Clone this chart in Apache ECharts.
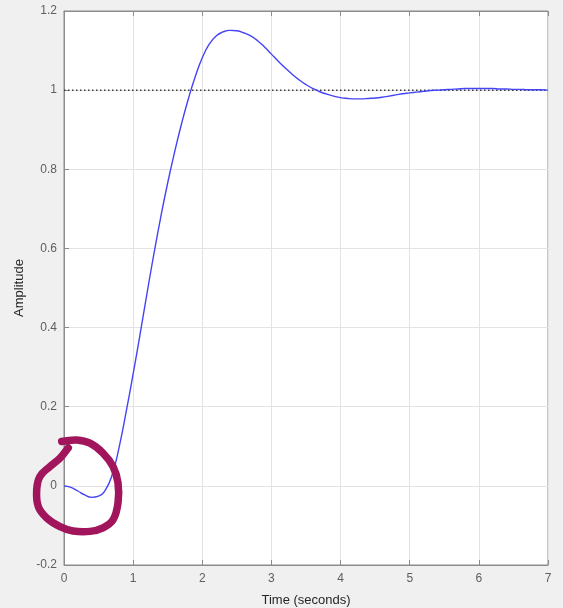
<!DOCTYPE html>
<html>
<head>
<meta charset="utf-8">
<style>
html,body{margin:0;padding:0;background:#f0f0f0;}
#c{width:563px;height:608px;}
</style>
<script src="https://cdn.jsdelivr.net/npm/echarts@6/dist/echarts.min.js"></script>
</head>
<body>
<div id="c"></div>
<script>
// Time samples (seconds)
const timeValues = [0.0,0.1,0.2,0.3,0.4,0.5,0.6,0.7,0.8,0.9,1.0,1.1,1.2,1.3,1.4,1.5,1.6,1.7,1.8,1.9,2.0,2.1,2.2,2.3,2.4,2.5,2.6,2.7,2.8,2.9,3.0,3.1,3.2,3.3,3.4,3.5,3.6,3.7,3.8,3.9,4.0,4.1,4.2,4.3,4.4,4.5,4.6,4.7,4.8,4.9,5.0,5.1,5.2,5.3,5.4,5.5,5.6,5.7,5.8,5.9,6.0,6.1,6.2,6.3,6.4,6.5,6.6,6.7,6.8,6.9,7.0];
// Step response amplitude
const amplitudeValues = [0,-0.004,-0.013,-0.023,-0.029,-0.026,-0.010,0.030,0.100,0.188,0.283,0.383,0.486,0.586,0.680,0.766,0.844,0.915,0.979,1.035,1.082,1.116,1.137,1.147,1.151,1.150,1.145,1.137,1.125,1.109,1.091,1.073,1.056,1.040,1.026,1.014,1.004,0.996,0.990,0.985,0.981,0.979,0.978,0.978,0.979,0.980,0.982,0.985,0.988,0.991,0.993,0.995,0.997,0.999,1.000,1.001,1.002,1.003,1.004,1.004,1.004,1.004,1.004,1.003,1.003,1.002,1.002,1.001,1.001,1.001,1.000];
// Steady-state reference line
const finalValueX = [0, 7];
const finalValueY = [1, 1];
// Hand-drawn annotation stroke (data coordinates)
const annotationX = [-0.033,0.184,0.376,0.564,0.709,0.781,0.781,0.709,0.564,0.376,0.130,-0.058,-0.25,-0.372,-0.395,-0.347,-0.202,-0.058,0.039,0.062];
const annotationY = [0.112,0.116,0.108,0.083,0.049,0.008,-0.043,-0.086,-0.106,-0.115,-0.114,-0.103,-0.081,-0.052,-0.010,0.024,0.049,0.070,0.091,0.096];
// Axis ticks
const xTicks = [0,1,2,3,4,5,6,7];
const yTicks = [-0.2,0,0.2,0.4,0.6,0.8,1,1.2];

const font = '"Liberation Sans", Arial, Helvetica, sans-serif';
const axisGray = '#8c8c8c';
const labelGray = '#5e5e5e';

const chart = echarts.init(document.getElementById('c'), null, {renderer:'canvas'});
chart.setOption({
  backgroundColor: '#f0f0f0',
  animation: false,
  grid: {left: 64, top: 11, right: 15, bottom: 43, containLabel: false, outerBoundsMode: 'none',
    show: true, backgroundColor: '#ffffff', borderColor: axisGray, borderWidth: 1},
  xAxis: [{
    type: 'value', min: xTicks[0], max: xTicks[xTicks.length-1], interval: 1,
    name: 'Time (seconds)', nameLocation: 'middle', nameGap: 29,
    nameTextStyle: {color: '#262626', fontSize: 13, fontFamily: font},
    axisLine: {show: true, onZero: false, lineStyle: {color: axisGray, width: 1}},
    axisTick: {show: true, inside: true, length: 5, lineStyle: {color: axisGray}},
    axisLabel: {color: labelGray, fontSize: 12, fontFamily: font, margin: 8},
    splitLine: {show: true, lineStyle: {color: '#e3e3e3', width: 1}}
  },{
    type: 'value', position: 'top', min: xTicks[0], max: xTicks[xTicks.length-1], interval: 1,
    axisLine: {show: true, onZero: false, lineStyle: {color: axisGray}},
    axisTick: {show: true, inside: true, length: 5, lineStyle: {color: axisGray}},
    axisLabel: {show: false}, splitLine: {show: false}
  }],
  yAxis: [{
    type: 'value', min: yTicks[0], max: yTicks[yTicks.length-1], interval: 0.2,
    name: 'Amplitude', nameLocation: 'middle', nameGap: 37,
    nameTextStyle: {color: '#262626', fontSize: 13, fontFamily: font},
    axisLine: {show: true, onZero: false, lineStyle: {color: axisGray, width: 1}},
    axisTick: {show: true, inside: true, length: 5, lineStyle: {color: axisGray}},
    axisLabel: {color: labelGray, fontSize: 12, fontFamily: font, margin: 7,
      formatter: v => String(parseFloat(v.toFixed(1)))},
    splitLine: {show: true, lineStyle: {color: '#e3e3e3', width: 1}}
  }],
  series: [{
    type: 'line', name: 'final', symbol: 'none', silent: true,
    data: finalValueX.map((x,i) => [x, finalValueY[i]]),
    lineStyle: {color: '#3a3a3a', width: 1.5, type: [1.5, 2.5]}, z: 2
  },{
    type: 'line', name: 'step', symbol: 'none', smooth: 0.5,
    data: timeValues.map((t,i) => [t, amplitudeValues[i]]),
    lineStyle: {color: '#4444f6', width: 1.4}, z: 3
  }]
});

// Annotation stroke placed through the chart's own scales
const annPts = annotationX.map((x,i) => chart.convertToPixel({xAxisIndex:0, yAxisIndex:0}, [x, annotationY[i]]));
chart.setOption({
  graphic: [{
    type: 'polyline', z: 100, silent: true,
    shape: {points: annPts, smooth: 0.4},
    style: {stroke: '#a0155c', lineWidth: 7.5, fill: null, lineCap: 'round', lineJoin: 'round'}
  }]
});
</script>
</body>
</html>
